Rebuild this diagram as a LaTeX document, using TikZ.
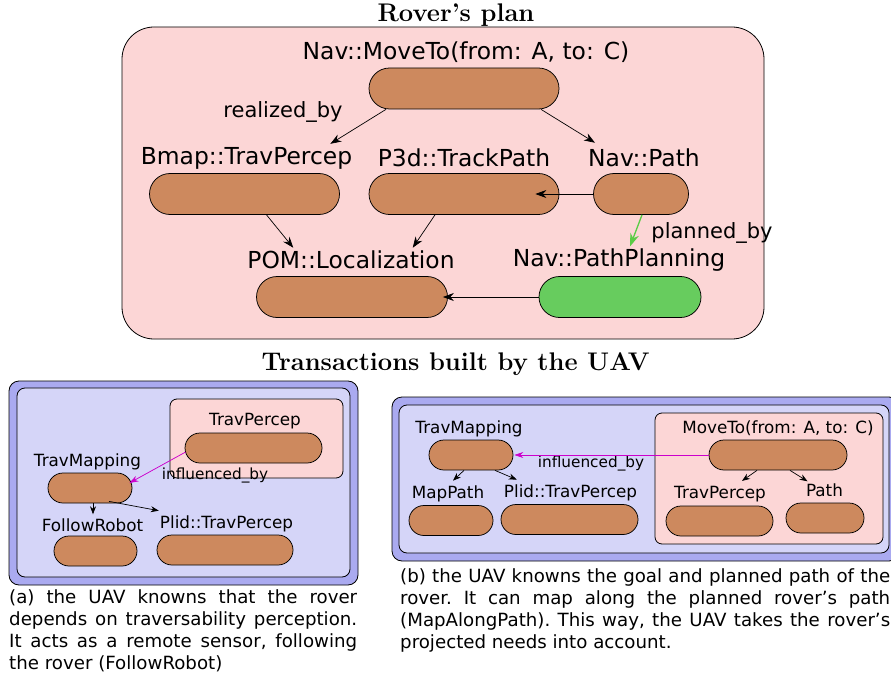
\documentclass[tikz,border=0pt]{standalone}
\usepackage{fontspec}
\usetikzlibrary{shapes.misc,arrows.meta,calc}
\newfontfamily\labfont{DejaVu Sans}

\definecolor{actbrown}{RGB}{205,137,94}
\definecolor{actgreen}{RGB}{103,204,94}
\definecolor{planpink}{RGB}{252,214,214}
\definecolor{uavouter}{RGB}{170,170,240}
\definecolor{uavinner}{RGB}{213,213,248}
\definecolor{inflmag}{RGB}{204,0,204}
\definecolor{plangreen}{RGB}{90,204,70}

\tikzset{
  act/.style={draw=black, fill=actbrown, rounded rectangle, line width=0.75pt, inner sep=0pt},
  bigact/.style={act, minimum height=41pt},
  smallact/.style={act, minimum height=30pt},
  biglbl/.style={inner sep=0pt, font=\labfont\fontsize{23.4}{26}\selectfont},
  edgelbl/.style={inner sep=0pt, font=\labfont\fontsize{21}{24}\selectfont},
  smalllbl/.style={inner sep=0pt, font=\labfont\fontsize{16.8}{19}\selectfont},
  smalledge/.style={inner sep=0pt, font=\labfont\fontsize{15.3}{18}\selectfont},
  titlelbl/.style={inner sep=0pt, font=\bfseries\fontsize{25.5}{30}\selectfont},
  arr/.style={-{Stealth[length=11pt,width=8pt]}, line width=0.7pt},
  sarr/.style={-{Stealth[length=8pt,width=6pt]}, line width=0.7pt},
  infl/.style={-{Stealth[length=9pt,width=6pt]}, draw=inflmag, fill=inflmag, line width=0.7pt},
  caption/.style={inner sep=0pt, anchor=north west, align=justify,
    font=\labfont\fontsize{18.2}{22}\selectfont\frenchspacing},
}

\begin{document}
\begin{tikzpicture}[x=1pt,y=-1pt]
\useasboundingbox (0,0) rectangle (891,679);
\clip (0,0) rectangle (891,679);

% ---------------- rover's plan ----------------
\node[titlelbl] (t1) at (456,15) {Rover's plan};
\draw[fill=planpink, line width=0.8pt, rounded corners=32pt] (122,27) rectangle (764,339);

\node[biglbl] (mvT) at (466,52) {Nav::MoveTo(from: A, to: C)};
\node[bigact, minimum width=190pt] (mv) at (464,88.5) {};

\node[biglbl] (bmT) at (246.5,158) {Bmap::TravPercep};
\node[bigact, minimum width=190pt] (bm) at (244.5,194) {};
\node[biglbl] (p3T) at (464,158) {P3d::TrackPath};
\node[bigact, minimum width=190pt] (p3) at (464,194) {};
\node[biglbl] (npT) at (644,158) {Nav::Path};
\node[bigact, minimum width=95pt] (np) at (641,194) {};

\node[biglbl] (poT) at (351,260) {POM::Localization};
\node[bigact, minimum width=191pt] (po) at (352,297) {};
\node[biglbl] (ppT) at (619,260) {Nav::PathPlanning};
\node[bigact, fill=actgreen, minimum width=162pt] (pp) at (620,297) {};

\node[edgelbl] (rb) at (283,112) {realized\_by};
\node[edgelbl] (pb) at (712,233) {planned\_by};

\draw[arr] ($(mv.south)+(-78,0)$) -- ($(bmT.north east)+(-22,-3)$);
\draw[arr] ($(mv.south)+(77,0)$) -- ($(npT.north west)+(7,-6)$);
\draw[arr] (np.west) -- ($(p3.east)+(-24,0)$);
\draw[arr] ($(bm.south)+(22,0)$) -- ($(poT.north west)+(46,-3)$);
\draw[arr] ($(p3.south)+(-29,0)$) -- ($(poT.north east)+(-42,-3)$);
\draw[-{Stealth[length=13pt,width=9pt]}, draw=plangreen, fill=plangreen, line width=1.3pt]
  ($(np.south)+(1,0)$) -- ($(ppT.north)+(11,-2)$);
\draw[arr] (pp.west) -- ($(po.east)+(-5,0)$);

% ---------------- transactions ----------------
\node[titlelbl] (t2) at (455.5,364) {Transactions built by the UAV};

% panel (a)
\draw[fill=uavouter, line width=0.8pt, rounded corners=10pt] (9,381) rectangle (358,585);
\draw[fill=uavinner, line width=0.8pt, rounded corners=8pt] (17,388) rectangle (350,577);
\draw[fill=planpink, line width=0.8pt, rounded corners=7pt] (170,399) rectangle (343,478);

\node[smalllbl] (aTpT) at (255,421) {TravPercep};
\node[smallact, minimum width=137pt] (aTp) at (253.5,448) {};
\node[smalllbl] (aTmT) at (87.5,462) {TravMapping};
\node[smallact, minimum width=84pt] (aTm) at (90,488) {};
\node[smalledge] (aIb) at (215,475) {influenced\_by};
\node[smalllbl] (aFrT) at (92.5,525) {FollowRobot};
\node[smallact, minimum width=83pt] (aFr) at (95.5,551) {};
\node[smalllbl] (aPlT) at (226.5,524) {Plid::TravPercep};
\node[smallact, minimum width=136pt] (aPl) at (225,550) {};

\draw[infl] ($(aTp.west)+(1,4)$) -- ($(aTm.east)+(-3,-5)$);
\draw[sarr] ($(aTm.south)+(3,0)$) -- ($(aFrT.north)+(0.5,-4)$);
\draw[sarr] ($(aTm.south east)+(-8,-2)$) -- ($(aPlT.north west)+(-1,-5)$);

\node[caption, text width=348pt] (capa) at (9,589) {(a) the UAV knowns that the rover\linebreak
depends on traversability perception.\linebreak
It acts as a remote sensor, following\linebreak
the rover (FollowRobot)};

% panel (b)
\draw[fill=uavouter, line width=0.8pt, rounded corners=10pt] (392,397) rectangle (899,561);
\draw[fill=uavinner, line width=0.8pt, rounded corners=8pt] (399,405) rectangle (889,553);
\draw[fill=planpink, line width=0.8pt, rounded corners=7pt] (655,413) rectangle (883,544);

\node[smalllbl] (bTmT) at (469,429) {TravMapping};
\node[smallact, minimum width=84pt] (bTm) at (471,455) {};
\node[smalledge] (bIb) at (591,463) {influenced\_by};
\node[smalllbl] (bMvT) at (778,428) {MoveTo(from: A, to: C)};
\node[smallact, minimum width=138pt] (bMv) at (778,455) {};
\node[smalllbl] (bMpT) at (448,494) {MapPath};
\node[smallact, minimum width=84pt] (bMp) at (451,520.5) {};
\node[smalllbl] (bPlT) at (570.5,493) {Plid::TravPercep};
\node[smallact, minimum width=137pt] (bPl) at (569.5,519.5) {};
\node[smalllbl] (bTpT) at (720,494) {TravPercep};
\node[smallact, minimum width=107pt] (bTp) at (719.5,521) {};
\node[smalllbl] (bPaT) at (824.5,490) {Path};
\node[smallact, minimum width=78pt] (bPa) at (825,518) {};

\draw[infl] (bMv.west) -- ($(bTm.east)+(1,0)$);
\draw[sarr] ($(bTm.south)+(-7,0)$) -- ($(bMpT.north)+(5,-5)$);
\draw[sarr] ($(bTm.south)+(24,0)$) -- ($(bPlT.north west)+(13,-5)$);
\draw[sarr] ($(bMv.south)+(-21,0)$) -- ($(bTpT.north)+(22,-5)$);
\draw[sarr] ($(bMv.south)+(12,0)$) -- ($(bPaT.north)+(-17,-2)$);

\node[caption, text width=490pt] (capb) at (400,568) {(b) the UAV knowns the goal and planned path of the\linebreak
rover. It can map along the planned rover’s path\linebreak
(MapAlongPath). This way, the UAV takes the rover’s\linebreak
projected needs into account.};
\end{tikzpicture}
\end{document}
